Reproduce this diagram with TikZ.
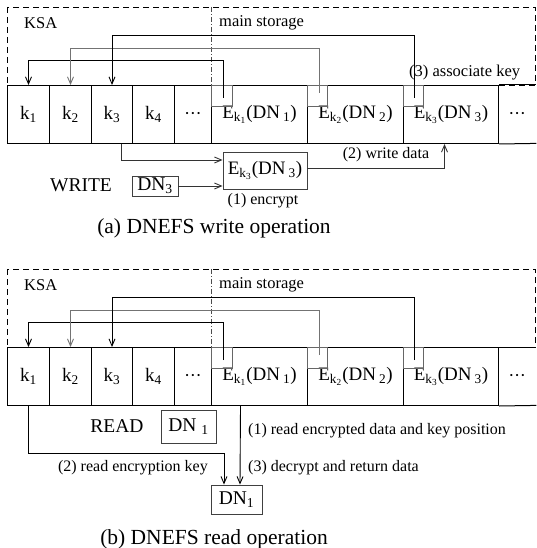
\documentclass[tikz,border=0pt]{standalone}
\usepackage{fontspec}
\setmainfont{Liberation Serif}
\usetikzlibrary{arrows.meta,calc}
\newcommand{\celldots}{{\fontsize{9}{9}\selectfont\textbullet\kern2.6pt\textbullet\kern2.6pt\textbullet}}
\tikzset{
  lbl/.style={font=\fontsize{16}{19}\selectfont, inner sep=0pt},
  toplbl/.style={font=\fontsize{16.5}{19}\selectfont, inner sep=0pt},
  big/.style={font=\fontsize{19.5}{24}\selectfont, inner sep=0pt},
  capt/.style={font=\fontsize{21.5}{26}\selectfont, inner sep=0pt},
  cell/.style={draw, line width=1pt, minimum height=58pt, inner sep=0pt, anchor=north west, font=\fontsize{19}{23}\selectfont},
  opencell/.style={minimum height=58pt, inner sep=0pt, anchor=north west, font=\fontsize{19}{23}\selectfont},
  rowline/.style={line width=1pt},
  outerdash/.style={line width=0.9pt, dash pattern=on 6pt off 4pt},
  divdash/.style={line width=0.6pt, dash pattern=on 5pt off 2pt on 1pt off 2pt, black!70},
  sq/.style={line width=0.9pt, black!60},
  conn/.style={line width=0.9pt, -{Straight Barb[length=7pt,width=6pt]}},
  boxnode/.style={draw, line width=0.9pt, black!75, text=black, inner sep=1pt},
}
\newcommand{\storagepanel}[1]{%
  \draw[outerdash] (7,7) rectangle (535,85);
  \draw[divdash] (211,7) -- (211,85);
  \node[toplbl, anchor=west] (ksa#1) at (24,23) {KSA};
  \node[toplbl, anchor=west] (ms#1) at (219,23) {main storage};
  \node[cell, minimum width=42pt] (ka#1) at (7,85) {k\textsubscript{1}};
  \node[cell, minimum width=42pt] (kb#1) at (49,85) {k\textsubscript{2}};
  \node[cell, minimum width=41pt] (kc#1) at (91,85) {k\textsubscript{3}};
  \node[cell, minimum width=42pt] (kd#1) at (132,85) {k\textsubscript{4}};
  \node[cell, minimum width=37pt] (dota#1) at (174,85) {\celldots};
  \node[cell, minimum width=96pt] (ea#1) at (211,85) {E\textsubscript{k\textsubscript{1}}(DN\,\textsubscript{1})};
  \node[cell, minimum width=96pt] (eb#1) at (307,85) {E\textsubscript{k\textsubscript{2}}(DN\,\textsubscript{2})};
  \node[cell, minimum width=95pt] (ec#1) at (403,85) {E\textsubscript{k\textsubscript{3}}(DN\,\textsubscript{3})};
  \node[opencell, minimum width=38pt] (dotb#1) at (498,85) {\celldots};
  \draw[rowline] (ec#1.north east) -- (dotb#1.north east);
  \draw[rowline] (ec#1.south east) -- (dotb#1.south east);
  \draw[sq] (ea#1.north west) rectangle ++(21,21);
  \draw[sq] (eb#1.north west) rectangle ++(20,21);
  \draw[sq] (ec#1.north west) rectangle ++(20,21);
  \coordinate (ca#1) at (223,98);
  \coordinate (cb#1) at (319,93);
  \coordinate (cc#1) at (414,98);
  \draw[conn] (ca#1) -- ++(0,-38) -| (ka#1.north);
  \draw[conn, black!55] (cb#1) -- ++(0,-45) -| (kb#1.north);
  \draw[conn] (cc#1) -- ++(0,-63) -| (kc#1.north);
}
\begin{document}
\begin{tikzpicture}[x=1pt, y=-1pt]
\useasboundingbox (0,0) rectangle (536,548);
% ---------- (a) write ----------
\storagepanel{A}
\node[toplbl, anchor=west] (assoc) at (409,73) {(3) associate key};
\node[boxnode, minimum width=84pt, minimum height=37pt, font=\fontsize{19}{23}\selectfont] (ew) at (265,170.5) {E\textsubscript{k\textsubscript{3}}(DN\,\textsubscript{3})};
\node[boxnode, minimum width=46pt, minimum height=20pt, font=\fontsize{19.5}{23}\selectfont] (dn3) at (155,186) {DN\textsubscript{3}};
\node[big] (write) at (81,185) {WRITE};
\draw[conn, black!80] ([xshift=9pt]kcA.south) |- ([yshift=10.5pt]ew.west);
\draw[conn, black!80] (dn3.east) -- (dn3.east -| ew.west);
\draw[conn, black!80] ([yshift=2.5pt]ew.east) -| ([xshift=-6.5pt]ecA.south);
\node[lbl] (enc) at (263,201) {(1) encrypt};
\node[lbl] (wd) at (386,155) {(2) write data};
\node[capt] (capa) at (214,228) {(a) DNEFS write operation};
% ---------- (b) read ----------
\begin{scope}[shift={(0,262)}]
\storagepanel{B}
\end{scope}
\node[big] (read) at (117,426) {READ};
\node[boxnode, minimum width=55pt, minimum height=33pt, font=\fontsize{19.5}{23}\selectfont] (dn1r) at (188.5,426.5) {DN\ \textsubscript{1}};
\node[boxnode, minimum width=51pt, minimum height=29pt, font=\fontsize{19.5}{23}\selectfont] (dnout) at (236.5,499.5) {DN\textsubscript{1}};
\draw[conn] (kaB.south) -- ++(0,47) -| ([xshift=-12.5pt]dnout.north);
\draw[conn] ([xshift=-19pt]eaB.south) -- ([xshift=3.5pt]dnout.north);
\node[lbl, anchor=west] (r1) at (248,431) {(1) read encrypted data and key position};
\node[lbl, anchor=east] (r2) at (208,468) {(2) read encryption key};
\node[lbl, anchor=west] (r3) at (248,468) {(3) decrypt and return data};
\node[capt] (capb) at (214,539) {(b) DNEFS read operation};
\end{tikzpicture}
\end{document}
